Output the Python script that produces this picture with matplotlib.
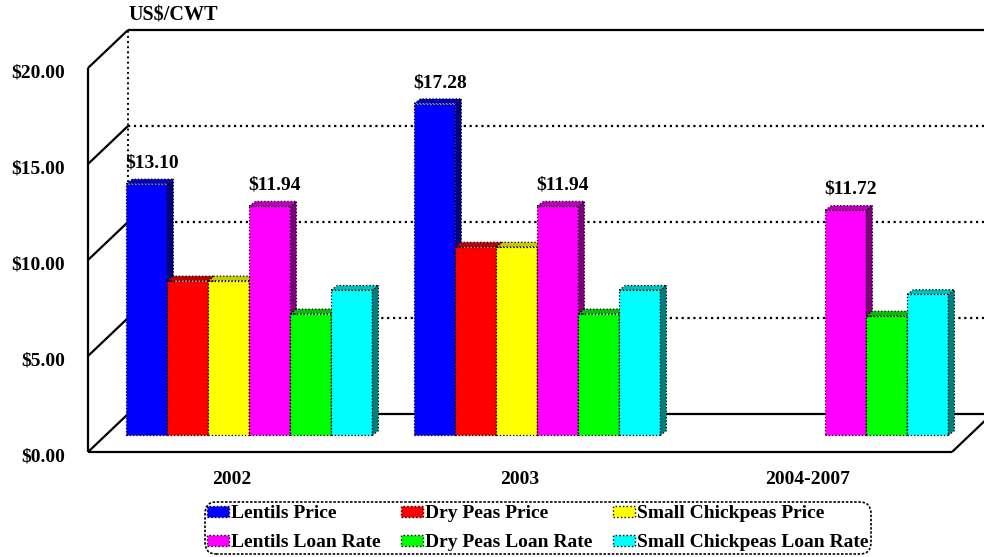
import matplotlib
matplotlib.use("Agg")
import matplotlib.pyplot as plt
from matplotlib.patches import Polygon, Patch
import numpy as np

plt.rcParams['font.family'] = ['Liberation Serif', 'DejaVu Serif']
plt.rcParams['font.weight'] = 'bold'

#-----------Data------------
categories = ['2002', '2003', '2004-2007']
series_names = ['Lentils Price', 'Dry Peas Price', 'Small Chickpeas Price',
                'Lentils Loan Rate', 'Dry Peas Loan Rate', 'Small Chickpeas Loan Rate']
lentils_price = [13.10, 17.28, np.nan]
dry_peas_price = [8.05, 9.81, np.nan]
small_chickpeas_price = [8.05, 9.81, np.nan]
lentils_loan = [11.94, 11.94, 11.72]
dry_peas_loan = [6.33, 6.33, 6.22]
small_chickpeas_loan = [7.56, 7.56, 7.34]
labelled = [True, False, False, True, False, False]  # series that carry value labels

yticks = [0, 5, 10, 15, 20]
ytick_labels = ['$0.00', '$5.00', '$10.00', '$15.00', '$20.00']
unit_label = 'US$/CWT'

front_colors = ['#0000FF', '#FF0000', '#FFFF00', '#FF00FF', '#00FF00', '#00FFFF']
top_colors = ['#0000C0', '#C00000', '#C8C800', '#C000C0', '#00C000', '#00C0C0']
side_colors = ['#000080', '#800000', '#808000', '#800080', '#008000', '#008080']

values = [lentils_price, dry_peas_price, small_chickpeas_price,
          lentils_loan, dry_peas_loan, small_chickpeas_loan]

#-----------Geometry (category units on x, dollars on y)------------
PX_X = 288.0    # pixels per category
PX_Y = 19.2     # pixels per dollar
DX, DY = 40 / PX_X, 38 / PX_Y          # full depth of the floor
BAR_F = 0.44                            # depth position of bar fronts
BDX, BDY = 6 / PX_X, 4.6 / PX_Y         # bar depth
BAR_W = 0.1424
GAP = 0.072
YMAX = 20

fig = plt.figure(figsize=(9.84, 5.57), dpi=100)
ax = fig.add_axes([0, 0, 1, 1])
ax.set_xlim(-88 / PX_X, (984 - 88) / PX_X)
ax.set_ylim(-105 / PX_Y, (557 - 105) / PX_Y)
ax.axis('off')

ncat = len(categories)

def line(xs, ys, ls='-', lw=1.6):
    ax.plot(xs, ys, color='black', lw=lw, ls=ls, solid_capstyle='butt', zorder=1)

# side wall, floor and back wall
line([0, 0], [0, YMAX])
for t in yticks:
    line([0, DX], [t, t + DY])
line([DX, DX], [DY, YMAX + DY], ls=':', lw=1.4)
for t in yticks[1:-1]:
    line([DX, ncat + DX], [t + DY, t + DY], ls=':', lw=1.6)
line([DX, ncat + DX], [YMAX + DY, YMAX + DY])
line([DX, ncat + DX], [DY, DY])
line([0, ncat], [0, 0])
line([ncat, ncat + DX], [0, DY])

# tick labels
for t, lab in zip(yticks, ytick_labels):
    ax.text(-23 / PX_X, t - 5 / PX_Y, lab, ha='right', va='center', fontsize=14, fontweight='bold')
ax.text(DX, YMAX + DY + 14 / PX_Y, unit_label, ha='left', va='center', fontsize=14.5, fontweight='bold')

# category labels
for i, c in enumerate(categories):
    ax.text(i + 0.5, -28 / PX_Y, c, ha='center', va='center', fontsize=14, fontweight='bold')

# bars
ox, oy = BAR_F * DX, BAR_F * DY
for i in range(ncat):
    for j in range(len(series_names)):
        v = values[j][i]
        if np.isnan(v):
            continue
        x0 = i + ox + GAP + j * BAR_W
        x1 = x0 + BAR_W
        y0, y1 = oy, oy + v
        kw = dict(edgecolor='black', lw=0.9, ls=':', zorder=2 + i * 10 + j)
        ax.add_patch(Polygon([(x0, y0), (x1, y0), (x1, y1), (x0, y1)], facecolor=front_colors[j], **kw))
        ax.add_patch(Polygon([(x1, y0), (x1 + BDX, y0 + BDY), (x1 + BDX, y1 + BDY), (x1, y1)],
                             facecolor=side_colors[j], **kw))
        ax.add_patch(Polygon([(x0, y1), (x1, y1), (x1 + BDX, y1 + BDY), (x0 + BDX, y1 + BDY)],
                             facecolor=top_colors[j], **kw))
        if labelled[j]:
            ax.text((x0 + x1) / 2 + 5 / PX_X, y1 + 21 / PX_Y, '$%.2f' % v, ha='center', va='center',
                    fontsize=14, fontweight='bold', zorder=100)

# legend
handles = [Patch(facecolor=front_colors[j], edgecolor='black', ls=':', lw=1.0) for j in range(6)]
order = [0, 3, 1, 4, 2, 5]
leg = fig.legend([handles[k] for k in order], [series_names[k] for k in order], ncol=3,
                 loc='center', bbox_to_anchor=(538 / 984, 29 / 557),
                 prop={'family': 'Liberation Serif', 'weight': 'bold', 'size': 14},
                 handlelength=1.13, handleheight=0.5, handletextpad=0.1, columnspacing=1.05,
                 labelspacing=0.62, borderpad=0.15, borderaxespad=0, fancybox=True, framealpha=1)
frame = leg.get_frame()
frame.set_edgecolor('black')
frame.set_linestyle((0, (1.5, 1)))
frame.set_linewidth(1.2)
frame.set_boxstyle('round,pad=0,rounding_size=0.6')

fig.savefig('out.png', dpi=100)
